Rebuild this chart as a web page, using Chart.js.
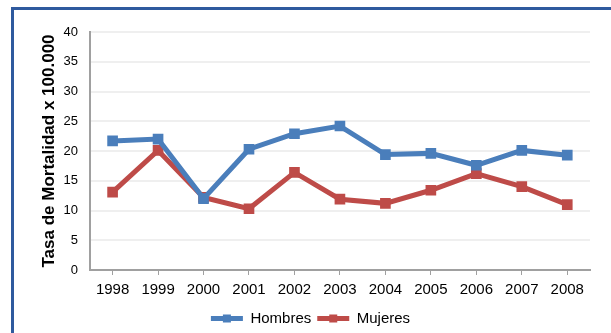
<!DOCTYPE html>
<html>
<head>
<meta charset="utf-8">
<script src="https://cdn.jsdelivr.net/npm/chart.js@4"></script>
<style>
  html, body { margin: 0; padding: 0; background: #fff; }
  #wrap { position: relative; width: 611px; height: 333px; overflow: hidden; }
  #frame {
    position: absolute; left: 11px; top: 7px; width: 700px; height: 400px;
    border-left: 3px solid #2f5a9e; border-top: 3px solid #2f5a9e;
  }
  canvas { position: absolute; left: 0; top: 0; }
</style>
</head>
<body>
<div id="wrap">
  <div id="frame"></div>
  <canvas id="chart" width="611" height="333"></canvas>
</div>
<script>
// Tasa de mortalidad por sexo, 1998-2008
const years = ['1998', '1999', '2000', '2001', '2002', '2003', '2004', '2005', '2006', '2007', '2008'];
const hombres = [21.7, 22.0, 12.0, 20.3, 22.9, 24.2, 19.4, 19.6, 17.6, 20.1, 19.3];
const mujeres = [13.1, 20.1, 12.2, 10.3, 16.4, 11.9, 11.2, 13.4, 16.2, 14.0, 11.0];
const yTicks = [0, 5, 10, 15, 20, 25, 30, 35, 40];

const font = "'Liberation Sans', Arial, sans-serif";
const legendLine = 32;

function series(label, data, color) {
    return {
        label: label,
        data: data,
        borderColor: color,
        backgroundColor: color,
        borderWidth: 5,
        pointStyle: 'rect',
        pointRadius: 4,
        pointHoverRadius: 4,
        tension: 0
    };
}

// small square marker in the middle of each legend line
const legendMarkers = {
    id: 'legendMarkers',
    afterDraw(chart) {
        const legend = chart.legend;
        if (!legend || !legend.legendHitBoxes) return;
        const ctx = chart.ctx;
        legend.legendHitBoxes.forEach((box, i) => {
            const ds = chart.data.datasets[i];
            const cx = box.left + legendLine / 2;
            const cy = box.top + box.height / 2;
            ctx.save();
            ctx.fillStyle = ds.borderColor;
            ctx.fillRect(cx - 4, cy - 4, 8, 8);
            ctx.restore();
        });
    }
};

new Chart(document.getElementById('chart').getContext('2d'), {
    type: 'line',
    data: {
        labels: years,
        datasets: [
            series('Hombres', hombres, '#4a7ebb'),
            series('Mujeres', mujeres, '#be4b48')
        ]
    },
    options: {
        responsive: false,
        animation: false,
        layout: { padding: { left: 31, right: 21, top: 32, bottom: -3 } },
        plugins: {
            tooltip: { enabled: false },
            legend: {
                position: 'bottom',
                labels: {
                    usePointStyle: true,
                    pointStyle: 'line',
                    pointStyleWidth: legendLine,
                    padding: 6,
                    color: '#000',
                    font: { family: font, size: 15 }
                }
            }
        },
        scales: {
            x: {
                offset: true,
                grid: {
                    offset: false,
                    drawOnChartArea: false,
                    tickLength: 5,
                    color: '#a0a0a0'
                },
                border: { color: '#a0a0a0', width: 2 },
                ticks: { color: '#000', padding: 6, font: { family: font, size: 15 } }
            },
            y: {
                min: 0,
                max: 40,
                afterBuildTicks: axis => { axis.ticks = yTicks.map(v => ({ value: v })); },
                grid: { color: '#efefef', lineWidth: 2, drawTicks: false },
                border: { color: '#a0a0a0', width: 2 },
                ticks: { color: '#000', padding: 12, font: { family: font, size: 13 } },
                title: {
                    display: true,
                    text: 'Tasa de Mortalidad x 100.000',
                    color: '#000',
                    padding: { top: 8, bottom: -8 },
                    font: { family: font, size: 17, weight: 'bold' }
                }
            }
        }
    },
    plugins: [legendMarkers]
});
</script>
</body>
</html>
